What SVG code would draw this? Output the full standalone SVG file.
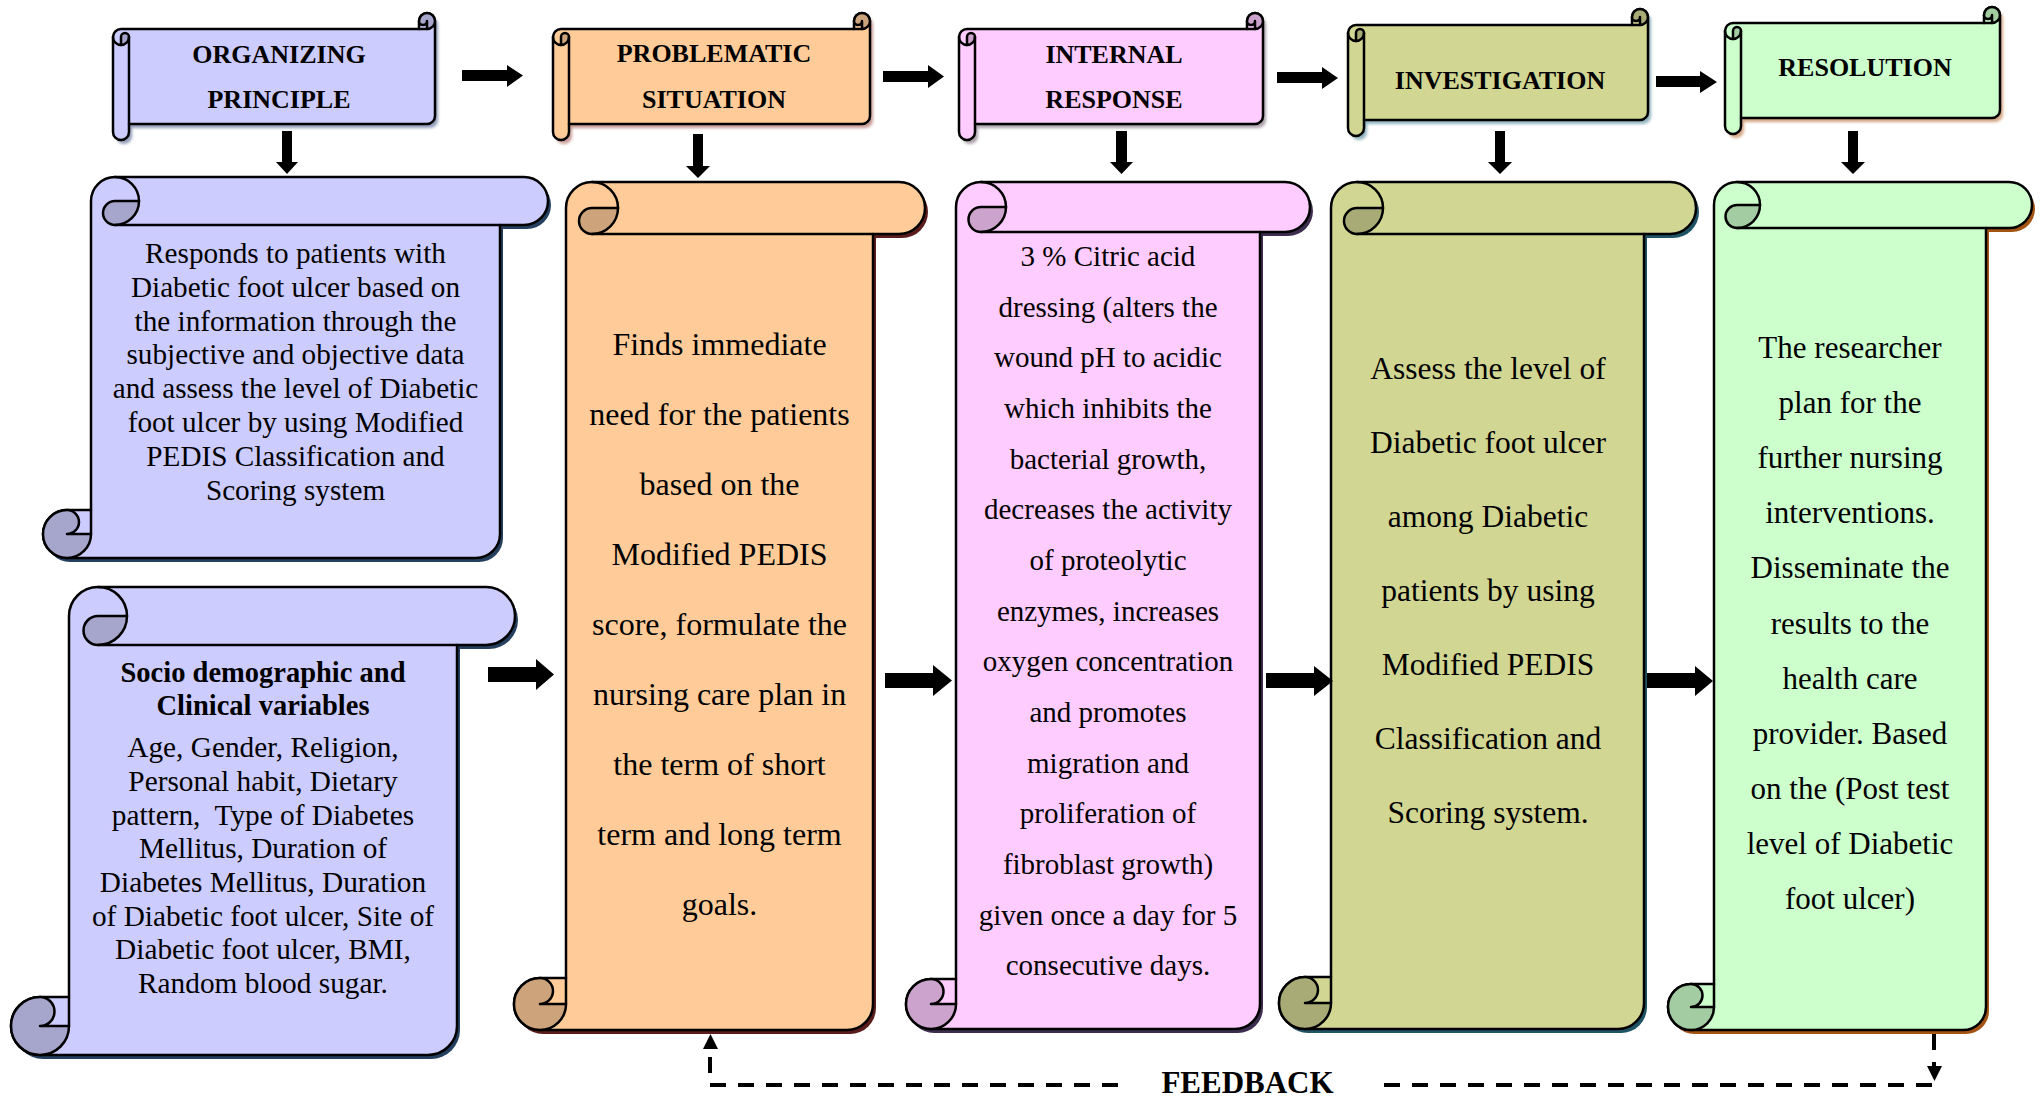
<svg xmlns="http://www.w3.org/2000/svg" width="2044" height="1098" viewBox="0 0 2044 1098">
<defs>
<filter id="soft" x="-10%" y="-10%" width="120%" height="120%"><feGaussianBlur stdDeviation="1.5"/></filter>
</defs>
<style>
.st{stroke:#000;stroke-width:2.5;stroke-linejoin:round}
.ln{fill:none;stroke:#000;stroke-width:2.5;stroke-linejoin:round;stroke-linecap:round}
.t{font-family:"Liberation Serif","Times New Roman",serif;text-anchor:middle;fill:#000}
.hd{font-weight:bold;font-size:26px}
.c1{font-size:29.2px}
.sb{font-size:28.5px;font-weight:bold}
.s2{font-size:29.3px}
.c2{font-size:32px}
.c3{font-size:29px}
.c4{font-size:31.5px}
.c5{font-size:31px}
.fb{font-size:31px;font-weight:bold}
.blue{fill:#CCCCFF}.blueD{fill:#A6A6CC}
.org{fill:#FFCC99}.orgD{fill:#CCA37A}
.pnk{fill:#FFCCFF}.pnkD{fill:#CCA3CC}
.olv{fill:#D2D693}.olvD{fill:#A8AB76}
.grn{fill:#CCFFCC}.grnD{fill:#A3CCA3}
.dash{fill:none;stroke:#000;stroke-width:4;stroke-dasharray:16 12}
</style>

<!-- HEADERS (horizontal scrolls, drawn as transposed vertical scrolls) -->
<g id="h-organizing">
<g transform="matrix(0 1 1 0 113 13)">
<path fill="#8f9cb8" filter="url(#soft)" transform="translate(4,3)" d="M16,306 L16,8 A8,8 0 0 1 24,0 L119,0 A8,8 0 0 1 119,16 L111,16 L111,314 A8,8 0 0 1 103,322 L8,322 A8,8 0 0 1 8,306 Z"/>
<path class="st blue" d="M16,306 L16,8 A8,8 0 0 1 24,0 L119,0 A8,8 0 0 1 119,16 L111,16 L111,314 A8,8 0 0 1 103,322 L8,322 A8,8 0 0 1 8,306 Z"/>
<path class="st blueD" d="M32,8 A8,8 0 0 1 24,16 A4,4 0 0 1 24,8 Z"/>
<path class="st blueD" d="M8,306 A8,8 0 0 0 8,322 A8,8 0 0 0 16,314 L8,314 A4,4 0 0 0 8,306 Z"/>
<path class="ln" d="M24,0 A8,8 0 0 1 32,8 M24,16 L111,16 M16,306 L16,314"/>
</g>
<text class="t hd" x="279" y="63">ORGANIZING</text>
<text class="t hd" x="279" y="108">PRINCIPLE</text>
</g>

<g id="h-problematic">
<g transform="matrix(0 1 1 0 553 13)">
<path fill="#c89a96" filter="url(#soft)" transform="translate(4,3)" d="M16,301 L16,8 A8,8 0 0 1 24,0 L119,0 A8,8 0 0 1 119,16 L111,16 L111,309 A8,8 0 0 1 103,317 L8,317 A8,8 0 0 1 8,301 Z"/>
<path class="st org" d="M16,301 L16,8 A8,8 0 0 1 24,0 L119,0 A8,8 0 0 1 119,16 L111,16 L111,309 A8,8 0 0 1 103,317 L8,317 A8,8 0 0 1 8,301 Z"/>
<path class="st orgD" d="M32,8 A8,8 0 0 1 24,16 A4,4 0 0 1 24,8 Z"/>
<path class="st orgD" d="M8,301 A8,8 0 0 0 8,317 A8,8 0 0 0 16,309 L8,309 A4,4 0 0 0 8,301 Z"/>
<path class="ln" d="M24,0 A8,8 0 0 1 32,8 M24,16 L111,16 M16,301 L16,309"/>
</g>
<text class="t hd" x="714" y="62">PROBLEMATIC</text>
<text class="t hd" x="714" y="108">SITUATION</text>
</g>

<g id="h-internal">
<g transform="matrix(0 1 1 0 959 13)">
<path fill="#a8a0a8" filter="url(#soft)" transform="translate(4,3)" d="M16,288 L16,8 A8,8 0 0 1 24,0 L119,0 A8,8 0 0 1 119,16 L111,16 L111,296 A8,8 0 0 1 103,304 L8,304 A8,8 0 0 1 8,288 Z"/>
<path class="st pnk" d="M16,288 L16,8 A8,8 0 0 1 24,0 L119,0 A8,8 0 0 1 119,16 L111,16 L111,296 A8,8 0 0 1 103,304 L8,304 A8,8 0 0 1 8,288 Z"/>
<path class="st pnkD" d="M32,8 A8,8 0 0 1 24,16 A4,4 0 0 1 24,8 Z"/>
<path class="st pnkD" d="M8,288 A8,8 0 0 0 8,304 A8,8 0 0 0 16,296 L8,296 A4,4 0 0 0 8,288 Z"/>
<path class="ln" d="M24,0 A8,8 0 0 1 32,8 M24,16 L111,16 M16,288 L16,296"/>
</g>
<text class="t hd" x="1114" y="63">INTERNAL</text>
<text class="t hd" x="1114" y="108">RESPONSE</text>
</g>

<g id="h-investigation">
<g transform="matrix(0 1 1 0 1348 9)">
<path fill="#8fb3bf" filter="url(#soft)" transform="translate(4,3)" d="M16,284 L16,8 A8,8 0 0 1 24,0 L119,0 A8,8 0 0 1 119,16 L111,16 L111,292 A8,8 0 0 1 103,300 L8,300 A8,8 0 0 1 8,284 Z"/>
<path class="st olv" d="M16,284 L16,8 A8,8 0 0 1 24,0 L119,0 A8,8 0 0 1 119,16 L111,16 L111,292 A8,8 0 0 1 103,300 L8,300 A8,8 0 0 1 8,284 Z"/>
<path class="st olvD" d="M32,8 A8,8 0 0 1 24,16 A4,4 0 0 1 24,8 Z"/>
<path class="st olvD" d="M8,284 A8,8 0 0 0 8,300 A8,8 0 0 0 16,292 L8,292 A4,4 0 0 0 8,284 Z"/>
<path class="ln" d="M24,0 A8,8 0 0 1 32,8 M24,16 L111,16 M16,284 L16,292"/>
</g>
<text class="t hd" x="1500" y="89">INVESTIGATION</text>
</g>

<g id="h-resolution">
<g transform="matrix(0 1 1 0 1725 7)">
<path fill="#d4a582" filter="url(#soft)" transform="translate(4,3)" d="M16,259 L16,8 A8,8 0 0 1 24,0 L119,0 A8,8 0 0 1 119,16 L111,16 L111,267 A8,8 0 0 1 103,275 L8,275 A8,8 0 0 1 8,259 Z"/>
<path class="st grn" d="M16,259 L16,8 A8,8 0 0 1 24,0 L119,0 A8,8 0 0 1 119,16 L111,16 L111,267 A8,8 0 0 1 103,275 L8,275 A8,8 0 0 1 8,259 Z"/>
<path class="st grnD" d="M32,8 A8,8 0 0 1 24,16 A4,4 0 0 1 24,8 Z"/>
<path class="st grnD" d="M8,259 A8,8 0 0 0 8,275 A8,8 0 0 0 16,267 L8,267 A4,4 0 0 0 8,259 Z"/>
<path class="ln" d="M24,0 A8,8 0 0 1 32,8 M24,16 L111,16 M16,259 L16,267"/>
</g>
<text class="t hd" x="1865" y="76">RESOLUTION</text>
</g>

<!-- BODY SCROLLS -->
<g id="organizing-content">
<g transform="translate(43,177)">
<path fill="#25405f" transform="translate(3,4)" d="M48,333 L48,24 A24,24 0 0 1 72,0 L481,0 A24,24 0 0 1 481,48 L457,48 L457,357 A24,24 0 0 1 433,381 L24,381 A24,24 0 0 1 24,333 Z"/>
<path class="st blue" d="M48,333 L48,24 A24,24 0 0 1 72,0 L481,0 A24,24 0 0 1 481,48 L457,48 L457,357 A24,24 0 0 1 433,381 L24,381 A24,24 0 0 1 24,333 Z"/>
<path class="st blueD" d="M96,24 A24,24 0 0 1 72,48 A12,12 0 0 1 72,24 Z"/>
<path class="st blueD" d="M24,333 A24,24 0 0 0 24,381 A24,24 0 0 0 48,357 L24,357 A12,12 0 0 0 24,333 Z"/>
<path class="ln" d="M72,0 A24,24 0 0 1 96,24 M72,48 L457,48 M48,333 L48,357"/>
</g>
<text class="t c1" x="295.5" y="263">Responds to patients with</text>
<text class="t c1" x="295.5" y="297">Diabetic foot ulcer based on</text>
<text class="t c1" x="295.5" y="331">the information through the</text>
<text class="t c1" x="295.5" y="364">subjective and objective data</text>
<text class="t c1" x="295.5" y="398">and assess the level of Diabetic</text>
<text class="t c1" x="295.5" y="432">foot ulcer by using Modified</text>
<text class="t c1" x="295.5" y="466">PEDIS Classification and</text>
<text class="t c1" x="295.5" y="500">Scoring system</text>
</g>

<g id="socio-demographic">
<g transform="translate(11,587)">
<path fill="#25405f" transform="translate(3,4)" d="M58,410 L58,29 A29,29 0 0 1 87,0 L475,0 A29,29 0 0 1 475,58 L446,58 L446,439 A29,29 0 0 1 417,468 L29,468 A29,29 0 0 1 29,410 Z"/>
<path class="st blue" d="M58,410 L58,29 A29,29 0 0 1 87,0 L475,0 A29,29 0 0 1 475,58 L446,58 L446,439 A29,29 0 0 1 417,468 L29,468 A29,29 0 0 1 29,410 Z"/>
<path class="st blueD" d="M116,29 A29,29 0 0 1 87,58 A14.5,14.5 0 0 1 87,29 Z"/>
<path class="st blueD" d="M29,410 A29,29 0 0 0 29,468 A29,29 0 0 0 58,439 L29,439 A14.5,14.5 0 0 0 29,410 Z"/>
<path class="ln" d="M87,0 A29,29 0 0 1 116,29 M87,58 L446,58 M58,410 L58,439"/>
</g>
<text class="t sb" x="263" y="682">Socio demographic and</text>
<text class="t sb" x="263" y="715">Clinical variables</text>
<text class="t s2" x="263" y="757">Age, Gender, Religion,</text>
<text class="t s2" x="263" y="791">Personal habit, Dietary</text>
<text class="t s2" x="263" y="825" xml:space="preserve">pattern,  Type of Diabetes</text>
<text class="t s2" x="263" y="858">Mellitus, Duration of</text>
<text class="t s2" x="263" y="892">Diabetes Mellitus, Duration</text>
<text class="t s2" x="263" y="926">of Diabetic foot ulcer, Site of</text>
<text class="t s2" x="263" y="959">Diabetic foot ulcer, BMI,</text>
<text class="t s2" x="263" y="993">Random blood sugar.</text>
</g>

<g id="problematic-content">
<g transform="translate(514,182)">
<path fill="#5a1c1c" transform="translate(3,4)" d="M52,796 L52,26 A26,26 0 0 1 78,0 L385,0 A26,26 0 0 1 385,52 L359,52 L359,822 A26,26 0 0 1 333,848 L26,848 A26,26 0 0 1 26,796 Z"/>
<path class="st org" d="M52,796 L52,26 A26,26 0 0 1 78,0 L385,0 A26,26 0 0 1 385,52 L359,52 L359,822 A26,26 0 0 1 333,848 L26,848 A26,26 0 0 1 26,796 Z"/>
<path class="st orgD" d="M104,26 A26,26 0 0 1 78,52 A13,13 0 0 1 78,26 Z"/>
<path class="st orgD" d="M26,796 A26,26 0 0 0 26,848 A26,26 0 0 0 52,822 L26,822 A13,13 0 0 0 26,796 Z"/>
<path class="ln" d="M78,0 A26,26 0 0 1 104,26 M78,52 L359,52 M52,796 L52,822"/>
</g>
<text class="t c2" x="719.5" y="355">Finds immediate</text>
<text class="t c2" x="719.5" y="425">need for the patients</text>
<text class="t c2" x="719.5" y="495">based on the</text>
<text class="t c2" x="719.5" y="565">Modified PEDIS</text>
<text class="t c2" x="719.5" y="635">score, formulate the</text>
<text class="t c2" x="719.5" y="705">nursing care plan in</text>
<text class="t c2" x="719.5" y="775">the term of short</text>
<text class="t c2" x="719.5" y="845">term and long term</text>
<text class="t c2" x="719.5" y="915">goals.</text>
</g>

<g id="internal-content">
<g transform="translate(906,182)">
<path fill="#3d2e4f" transform="translate(3,4)" d="M50,797 L50,25 A25,25 0 0 1 75,0 L379,0 A25,25 0 0 1 379,50 L354,50 L354,822 A25,25 0 0 1 329,847 L25,847 A25,25 0 0 1 25,797 Z"/>
<path class="st pnk" d="M50,797 L50,25 A25,25 0 0 1 75,0 L379,0 A25,25 0 0 1 379,50 L354,50 L354,822 A25,25 0 0 1 329,847 L25,847 A25,25 0 0 1 25,797 Z"/>
<path class="st pnkD" d="M100,25 A25,25 0 0 1 75,50 A12.5,12.5 0 0 1 75,25 Z"/>
<path class="st pnkD" d="M25,797 A25,25 0 0 0 25,847 A25,25 0 0 0 50,822 L25,822 A12.5,12.5 0 0 0 25,797 Z"/>
<path class="ln" d="M75,0 A25,25 0 0 1 100,25 M75,50 L354,50 M50,797 L50,822"/>
</g>
<text class="t c3" x="1108" y="266">3 % Citric acid</text>
<text class="t c3" x="1108" y="317">dressing (alters the</text>
<text class="t c3" x="1108" y="367">wound pH to acidic</text>
<text class="t c3" x="1108" y="418">which inhibits the</text>
<text class="t c3" x="1108" y="469">bacterial growth,</text>
<text class="t c3" x="1108" y="519">decreases the activity</text>
<text class="t c3" x="1108" y="570">of proteolytic</text>
<text class="t c3" x="1108" y="621">enzymes, increases</text>
<text class="t c3" x="1108" y="671">oxygen concentration</text>
<text class="t c3" x="1108" y="722">and promotes</text>
<text class="t c3" x="1108" y="773">migration and</text>
<text class="t c3" x="1108" y="823">proliferation of</text>
<text class="t c3" x="1108" y="874">fibroblast growth)</text>
<text class="t c3" x="1108" y="925">given once a day for 5</text>
<text class="t c3" x="1108" y="975">consecutive days.</text>
</g>

<g id="investigation-content">
<g transform="translate(1279,182)">
<path fill="#1f5464" transform="translate(3,4)" d="M52,795 L52,26 A26,26 0 0 1 78,0 L391,0 A26,26 0 0 1 391,52 L365,52 L365,821 A26,26 0 0 1 339,847 L26,847 A26,26 0 0 1 26,795 Z"/>
<path class="st olv" d="M52,795 L52,26 A26,26 0 0 1 78,0 L391,0 A26,26 0 0 1 391,52 L365,52 L365,821 A26,26 0 0 1 339,847 L26,847 A26,26 0 0 1 26,795 Z"/>
<path class="st olvD" d="M104,26 A26,26 0 0 1 78,52 A13,13 0 0 1 78,26 Z"/>
<path class="st olvD" d="M26,795 A26,26 0 0 0 26,847 A26,26 0 0 0 52,821 L26,821 A13,13 0 0 0 26,795 Z"/>
<path class="ln" d="M78,0 A26,26 0 0 1 104,26 M78,52 L365,52 M52,795 L52,821"/>
</g>
<text class="t c4" x="1488" y="379">Assess the level of</text>
<text class="t c4" x="1488" y="453">Diabetic foot ulcer</text>
<text class="t c4" x="1488" y="527">among Diabetic</text>
<text class="t c4" x="1488" y="601">patients by using</text>
<text class="t c4" x="1488" y="675">Modified PEDIS</text>
<text class="t c4" x="1488" y="749">Classification and</text>
<text class="t c4" x="1488" y="823">Scoring system.</text>
</g>

<g id="resolution-content">
<g transform="translate(1668,182)">
<path fill="#a45412" transform="translate(3,4)" d="M46,802 L46,23 A23,23 0 0 1 69,0 L341,0 A23,23 0 0 1 341,46 L318,46 L318,825 A23,23 0 0 1 295,848 L23,848 A23,23 0 0 1 23,802 Z"/>
<path class="st grn" d="M46,802 L46,23 A23,23 0 0 1 69,0 L341,0 A23,23 0 0 1 341,46 L318,46 L318,825 A23,23 0 0 1 295,848 L23,848 A23,23 0 0 1 23,802 Z"/>
<path class="st grnD" d="M92,23 A23,23 0 0 1 69,46 A11.5,11.5 0 0 1 69,23 Z"/>
<path class="st grnD" d="M23,802 A23,23 0 0 0 23,848 A23,23 0 0 0 46,825 L23,825 A11.5,11.5 0 0 0 23,802 Z"/>
<path class="ln" d="M69,0 A23,23 0 0 1 92,23 M69,46 L318,46 M46,802 L46,825"/>
</g>
<text class="t c5" x="1850" y="358">The researcher</text>
<text class="t c5" x="1850" y="413">plan for the</text>
<text class="t c5" x="1850" y="468">further nursing</text>
<text class="t c5" x="1850" y="523">interventions.</text>
<text class="t c5" x="1850" y="578">Disseminate the</text>
<text class="t c5" x="1850" y="634">results to the</text>
<text class="t c5" x="1850" y="689">health care</text>
<text class="t c5" x="1850" y="744">provider. Based</text>
<text class="t c5" x="1850" y="799">on the (Post test</text>
<text class="t c5" x="1850" y="854">level of Diabetic</text>
<text class="t c5" x="1850" y="909">foot ulcer)</text>
</g>

<!-- CONNECTORS -->
<g id="connectors" fill="#000">
<polygon points="462,70 507,70 507,65 523,75.5 507,87 507,81 462,81"/>
<polygon points="883,71 928,71 928,65 944,76.5 928,88 928,82 883,82"/>
<polygon points="1277,72 1322,72 1322,67 1338,78 1322,89 1322,83 1277,83"/>
<polygon points="1656,76 1700,76 1700,71 1717,82 1700,93 1700,87 1656,87"/>
<polygon points="282,131 292,131 292,162 298,162 287,174 276,162 282,162"/>
<polygon points="693,134 703,134 703,166 710,166 698,178 686,166 693,166"/>
<polygon points="1116,131 1127,131 1127,162 1133,162 1121.5,174 1110,162 1116,162"/>
<polygon points="1495,131 1505,131 1505,162 1512,162 1500,174 1488,162 1495,162"/>
<polygon points="1848,131 1858,131 1858,162 1865,162 1853,174 1841,162 1848,162"/>
<polygon points="488,667 536,667 536,659 554,674.5 536,690 536,682 488,682"/>
<polygon points="885,673 933,673 933,665 952,680.5 933,696 933,688 885,688"/>
<polygon points="1266,673 1314,673 1314,666 1333,681 1314,696 1314,688 1266,688"/>
<polygon points="1647,673 1695,673 1695,666 1713,681 1695,696 1695,688 1647,688"/>
<g id="feedback">
<path class="dash" d="M1934,1034 L1934,1066"/>
<polygon points="1927,1066 1942,1066 1934.5,1081"/>
<path class="dash" d="M1932,1085 L1382,1085"/>
<path class="dash" d="M1118,1085 L710,1085 L710,1049"/>
<polygon points="703,1049 718,1049 710.5,1034"/>
<text class="t fb" x="1247.5" y="1093">FEEDBACK</text>
</g>
</g>
</svg>
